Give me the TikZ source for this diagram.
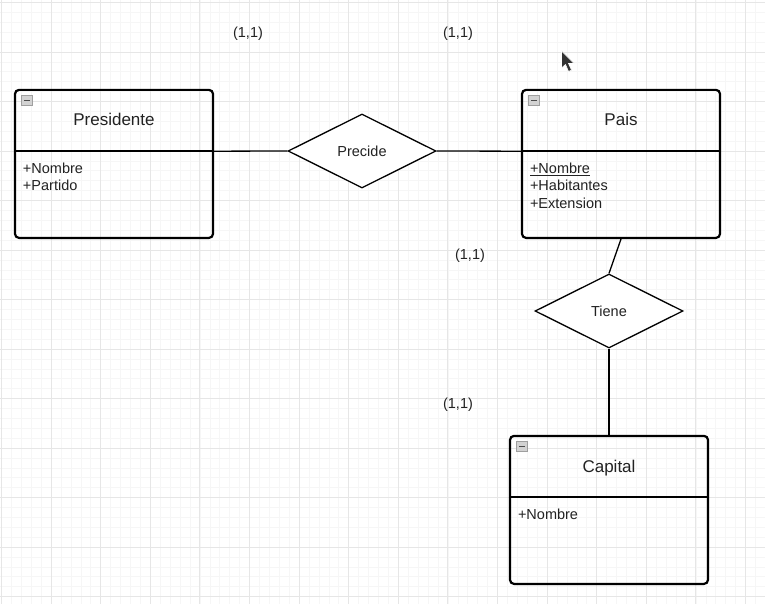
\documentclass[tikz,border=0pt]{standalone}
\usepackage{fontspec}
\setmainfont{Liberation Sans}
\usepackage{tikz}
\usetikzlibrary{shapes.geometric,positioning}

\definecolor{gridminor}{HTML}{F6F6F6}
\definecolor{gridmajor}{HTML}{E6E6E6}
\definecolor{ink}{HTML}{222222}

\tikzset{
  entity/.style={draw=black,line width=2.2pt,rounded corners=4pt,minimum width=198pt,minimum height=148pt,inner sep=0pt},
  entityhead/.style={minimum width=198pt,minimum height=62pt,inner sep=0pt,text height=12pt,text depth=0pt,text=ink,font=\fontsize{17}{20}\selectfont},
  attrs/.style={align=left,inner sep=0pt,text=ink,font=\fontsize{14.5}{17.5}\selectfont},
  relation/.style={diamond,aspect=2,draw=black,line width=1.3pt,fill=white,minimum width=148pt,minimum height=74pt,inner sep=0pt,text=ink,font=\fontsize{14.5}{17}\selectfont},
  link/.style={line width=1.3pt},
  card/.style={text=ink,font=\fontsize{14.5}{17}\selectfont}
}

% small collapse icon in the top left corner of a class box
\newcommand{\togglebox}[1]{%
  \draw[fill=gray!35,draw=gray!75,line width=0.7pt] ([shift={(7pt,-7pt)}]#1.north west) rectangle +(10.5pt,-9.5pt);
  \draw[black!70,line width=1.3pt] ([shift={(9.5pt,-11.75pt)}]#1.north west) -- +(5.5pt,0);
}

\begin{document}
\begin{tikzpicture}[x=1pt,y=-1pt]
\useasboundingbox (0,0) rectangle (765,604);
\fill[white] (0,0) rectangle (765,604);

\foreach \X in {0,...,77}{
    \draw[gridminor,line width=0.6pt] ({1.5+9.92*\X},0) -- ({1.5+9.92*\X},604);
}
\foreach \Y in {0,...,61}{
    \draw[gridminor,line width=0.6pt] (0,{2.5+9.9*\Y}) -- (765,{2.5+9.9*\Y});
}
\foreach \X in {0,...,15}{
    \draw[gridmajor,line width=0.9pt] ({1.5+49.6*\X},0) -- ({1.5+49.6*\X},604);
}
\foreach \Y in {0,...,12}{
    \draw[gridmajor,line width=0.9pt] (0,{2.5+49.5*\Y}) -- (765,{2.5+49.5*\Y});
}

\node[entityhead] (presHead) at (114,120) {Presidente};
\node[entity,anchor=north] (pres) at (presHead.north) {};
\draw[line width=2.2pt] (presHead.south west) -- (presHead.south east);
\node[attrs,below right=11.5pt and 8pt of presHead.south west] (presAttr) {+Nombre\\+Partido};
\togglebox{presHead}

\node[entityhead] (paisHead) at (621,120) {Pais};
\node[entity,anchor=north] (pais) at (paisHead.north) {};
\draw[line width=2.2pt] (paisHead.south west) -- (paisHead.south east);
\node[attrs,below right=11.5pt and 8pt of paisHead.south west] (paisAttr) {\underline{+Nombre}\\+Habitantes\\+Extension};
\togglebox{paisHead}

\node[entityhead] (capHead) at (609,466) {Capital};
\node[entity,anchor=north] (cap) at (capHead.north) {};
\draw[line width=2.2pt] (capHead.south west) -- (capHead.south east);
\node[attrs,below right=11.5pt and 8pt of capHead.south west] (capAttr) {+Nombre};
\togglebox{capHead}

\node[relation] (precide) at (362,151) {Precide};
\node[relation] (tiene) at (609,311) {Tiene};

\draw[link] (presHead.south east) -- (precide.west);
\draw[link] (precide.east) -- (paisHead.south west);
\draw[link] (pais.south) -- (tiene.north);
\draw[link] (tiene.south) -- (cap.north);

\foreach \Point [count=\i] in {(248,33.5),(458,33.5),(470,255.5),(458,404.5)}{
    \node[card] (card\i) at \Point {(1,1)};
}

%\draw[->] (562,51) -- (570,70);
\fill[black!80,draw=white,line width=0.6pt] (561.5,51) -- (561.5,68) -- (565.5,64.5) -- (568.5,71.5) -- (571.5,70) -- (568.5,63.5) -- (574,63.5) -- cycle;
\end{tikzpicture}
\end{document}
